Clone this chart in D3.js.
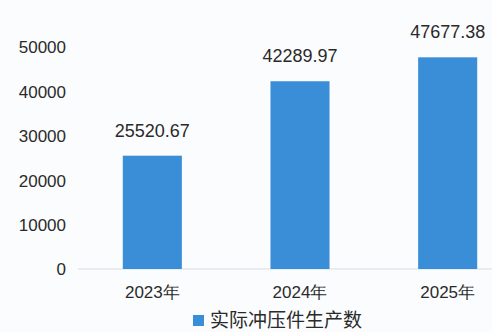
<!DOCTYPE html>
<html><head><meta charset="utf-8">
<script src="https://cdn.jsdelivr.net/npm/d3@7"></script>
<style>
html,body{margin:0;padding:0;background:#fbfcfd;}
svg{display:block;}
</style></head>
<body>
<svg id="c" width="492" height="332"></svg>
<script>
const categories = ["2023年", "2024年", "2025年"];
const values = [25520.67, 42289.97, 47677.38];
const valueLabels = ["25520.67", "42289.97", "47677.38"];
const yTicks = [0, 10000, 20000, 30000, 40000, 50000];
const seriesName = "实际冲压件生产数";

const svg = d3.select("#c");
const font = "'Liberation Sans', Arial, sans-serif";
const barColor = "#3a8ed8";
const textColor = "#2a2a2a";

const x = d3.scaleBand().domain(categories).range([78.5, 521.5]).paddingInner(0.6).paddingOuter(0.3);
const y = d3.scaleLinear().domain([0, 50000]).range([269, 47]);

// baseline
svg.append("line").attr("x1", 78).attr("x2", 492).attr("y1", y(0)).attr("y2", y(0))
  .attr("stroke", "#d8dde2").attr("stroke-width", 1.2);

// y axis
const yAxis = d3.axisLeft(y).tickValues(yTicks).tickSize(0).tickPadding(0).tickFormat(d3.format("d"));
const gy = svg.append("g").attr("transform", "translate(66,0)").call(yAxis);
gy.select(".domain").remove();
gy.selectAll("text").attr("font-family", font).attr("font-size", 17).attr("fill", textColor).attr("dy", "0.35em");

// x axis
const xAxis = d3.axisBottom(x).tickSize(0).tickPadding(0);
const gx = svg.append("g").attr("transform", `translate(0,${y(0)})`).call(xAxis);
gx.select(".domain").remove();
gx.selectAll("text").attr("font-family", font).attr("font-size", 17).attr("fill", textColor).attr("dy", "0").attr("y", 29);

// bars
svg.selectAll("rect.bar").data(values).join("rect").attr("class", "bar")
  .attr("x", (d, i) => x(categories[i]))
  .attr("width", x.bandwidth())
  .attr("y", d => y(d))
  .attr("height", d => y(0) - y(d))
  .attr("fill", barColor);

// value labels
svg.selectAll("text.val").data(values).join("text").attr("class", "val")
  .attr("x", (d, i) => x(categories[i]) + x.bandwidth() / 2)
  .attr("y", d => y(d) - 19)
  .attr("text-anchor", "middle")
  .attr("font-family", font).attr("font-size", 18).attr("fill", textColor)
  .text((d, i) => valueLabels[i]);

// legend
const lg = svg.append("g").attr("transform", "translate(193,315)");
lg.append("rect").attr("width", 11).attr("height", 11).attr("fill", barColor);
lg.append("text").attr("x", 17).attr("y", 12)
  .attr("font-family", "'Noto Sans CJK SC', sans-serif").attr("font-size", 19).attr("fill", textColor)
  .text(seriesName);
</script>
</body></html>
